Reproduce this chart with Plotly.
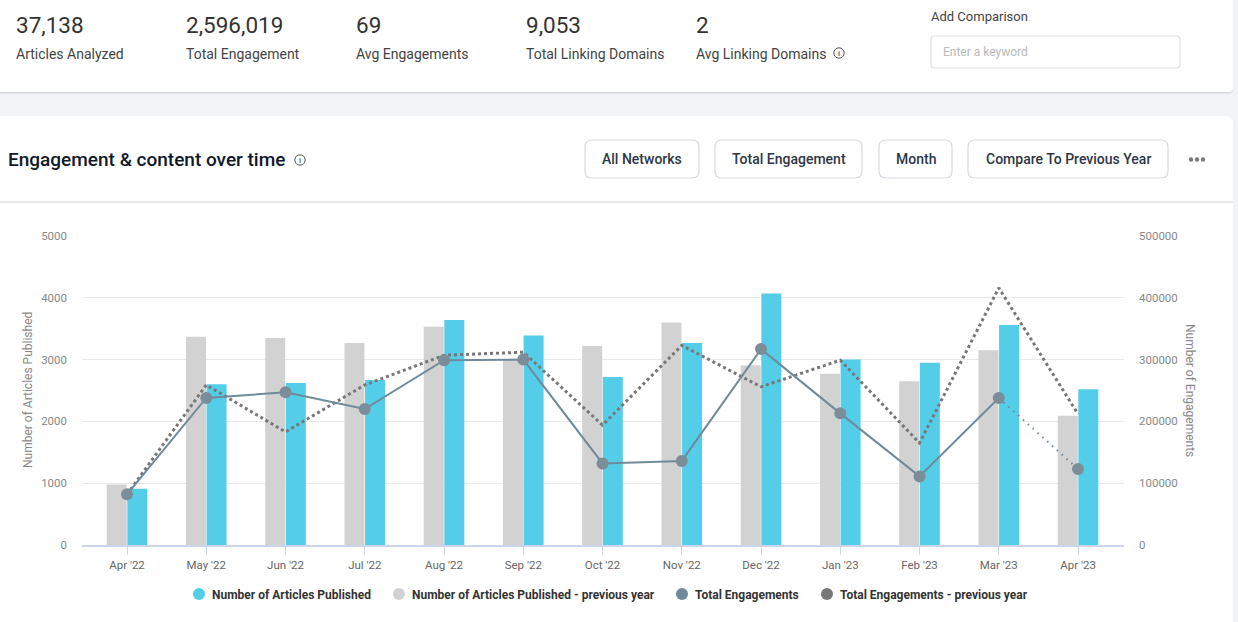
import plotly.graph_objects as go

categories = ["Apr '22","May '22","Jun '22","Jul '22","Aug '22","Sep '22","Oct '22","Nov '22","Dec '22","Jan '23","Feb '23","Mar '23","Apr '23"]
articles = [910,2600,2620,2670,3640,3390,2720,3270,4070,3000,2950,3560,2520]
articles_prev = [980,3370,3350,3270,3530,3000,3220,3600,2910,2770,2650,3150,2090]
engagements = [82000,238000,247000,220000,299000,300000,132000,136000,317000,213000,111000,238000,123000]
engagements_prev = [82000,259000,183000,259000,307000,312000,194000,323000,256000,299000,165000,416000,212000]
kpi_values = ["37,138","2,596,019","69","9,053","2"]
kpi_labels = ["Articles Analyzed","Total Engagement","Avg Engagements","Total Linking Domains","Avg Linking Domains"]
kpi_x = [16,186,356,526,696]
buttons = ["All Networks","Total Engagement","Month","Compare To Previous Year"]
button_spans = [(585,699),(715,862),(879,952),(968,1168)]
legend_names = ["Number of Articles Published","Number of Articles Published - previous year","Total Engagements","Total Engagements - previous year"]
legend_dots = [199,399,682,827]

W, H = 1238, 622
BLUE, GREY, SLATE, DARK = "#54cde8", "#d2d2d2", "#6f8b9b", "#777777"
FONT = "Roboto"
px = lambda x: x / W
py = lambda y: 1 - y / H

def rrect(x0, y0, x1, y1, r, fill, line=None, lw=1):
    d = (f"M{px(x0+r)},{py(y0)} L{px(x1-r)},{py(y0)} Q{px(x1)},{py(y0)} {px(x1)},{py(y0+r)} "
         f"L{px(x1)},{py(y1-r)} Q{px(x1)},{py(y1)} {px(x1-r)},{py(y1)} L{px(x0+r)},{py(y1)} "
         f"Q{px(x0)},{py(y1)} {px(x0)},{py(y1-r)} L{px(x0)},{py(y0+r)} Q{px(x0)},{py(y0)} {px(x0+r)},{py(y0)} Z")
    return dict(type="path", path=d, xref="paper", yref="paper", fillcolor=fill,
                line=dict(color=line or fill, width=lw if line else 0), layer="below")

def text(x, y, s, size, color, anchor="left", weight=400, angle=0):
    return dict(x=px(x), y=py(y), xref="paper", yref="paper", text=s, showarrow=False, xanchor=anchor,
                yanchor="middle", borderpad=0, textangle=angle,
                font=dict(family=FONT, size=size, color=color, weight=weight))

def circle(cx, cy, r, fill, line=None):
    return dict(type="circle", xref="paper", yref="paper", x0=px(cx-r), x1=px(cx+r), y0=py(cy+r), y1=py(cy-r),
                fillcolor=fill, line=dict(color=line or fill, width=1 if line else 0), layer="below")

shapes = [
    rrect(-6, -6, 1233, 93.5, 4, "#d8dadd"),
    rrect(-6, -6, 1233, 92, 4, "#ffffff"),
    rrect(-6, 116, 1233, 640, 8, "#ffffff"),
    dict(type="line", xref="paper", yref="paper", x0=0, x1=px(1233), y0=py(202), y1=py(202), line=dict(color="#e4e6ea", width=2), layer="below"),
    rrect(931, 36, 1180, 68, 3, "#ffffff", "#dcdfe3", 1.2),
]
annotations = []
for x, v, l in zip(kpi_x, kpi_values, kpi_labels):
    annotations.append(text(x - 1, 25.5, v, 22.5, "#333333"))
    annotations.append(text(x - 1, 54, l, 14, "#444444"))
annotations.append(text(930, 17, "Add Comparison", 13, "#444444"))
annotations.append(text(942, 52, "Enter a keyword", 12, "#b8b8b8"))
annotations.append(text(7, 159, "Engagement &amp; content over time", 19, "#10182a", weight=500))
for name, (x0, x1) in zip(buttons, button_spans):
    shapes.append(rrect(x0, 140, x1, 178, 7, "#ffffff", "#d5d9df", 1.2))
    annotations.append(text((x0 + x1) / 2, 159, name, 14, "#2d3748", "center", 500))
for cx in (1191, 1197, 1203):
    shapes.append(circle(cx, 159.5, 2.2, "#7a7a7a"))
for cx, cy in ((839, 53), (300, 160)):
    shapes.append(circle(cx, cy, 5.2, "rgba(0,0,0,0)", "#555555"))
    annotations.append(text(cx, cy, "i", 8, "#555555", "center", 500))
for cx, name, col in zip(legend_dots, legend_names, [BLUE, GREY, SLATE, DARK]):
    shapes.append(circle(cx, 594, 6, col))
    annotations.append(text(cx + 12, 594.5, name, 12, "#333333", weight=700))
annotations.append(text(28, 390, "Number of Articles Published", 12, "#888888", "center", angle=-90))
annotations.append(text(1190, 390, "Number of Engagements", 12, "#888888", "center", angle=90))

fig = go.Figure()
fig.add_bar(x=categories, y=articles_prev, marker=dict(color=GREY, line_width=0), showlegend=False, name=legend_names[1])
fig.add_bar(x=categories, y=articles, marker=dict(color=BLUE, line_width=0), showlegend=False, name=legend_names[0])
fig.add_scatter(x=categories, y=engagements_prev, yaxis="y2", mode="lines", showlegend=False, name=legend_names[3],
                line=dict(color=DARK, width=3, dash="dot"))
fig.add_scatter(x=categories[-2:], y=engagements[-2:], yaxis="y2", mode="lines", showlegend=False, name=legend_names[2],
                line=dict(color=SLATE, width=2, dash="1.5px,5px"))
fig.add_scatter(x=categories[:-1], y=engagements[:-1], yaxis="y2", mode="lines", showlegend=False, name=legend_names[2],
                line=dict(color=SLATE, width=2))
fig.add_scatter(x=categories, y=engagements, yaxis="y2", mode="markers", showlegend=False, name=legend_names[2],
                marker=dict(color="#7b8d99", size=12))

axis_font = dict(family=FONT, size=11.5, color="#888888")
fig.update_layout(
    width=W, height=H, autosize=False, margin=dict(l=0, r=0, t=0, b=0), showlegend=False,
    paper_bgcolor="#f2f3f5", plot_bgcolor="rgba(0,0,0,0)", font=dict(family=FONT),
    barmode="group", bargap=0.48, bargroupgap=0.03, shapes=shapes, annotations=annotations,
    xaxis=dict(domain=[px(82), px(1124)], range=[-0.568, 12.58], type="category", categoryorder="array", categoryarray=categories,
               automargin=False, showline=True, linecolor="#ccd6eb", linewidth=1.5, ticks="outside", tickcolor="#ccd6eb", ticklen=8,
               showgrid=False, tickfont=dict(family=FONT, size=11.5, color="#666666"), anchor="y"),
    yaxis=dict(domain=[py(545), py(236)], range=[0, 5000], dtick=1000, gridcolor="#e9e9e9", gridwidth=1, zeroline=False,
               automargin=False, showline=False, tickfont=axis_font, ticklabelstandoff=14, anchor="x"),
    yaxis2=dict(domain=[py(545), py(236)], range=[0, 500000], dtick=100000, overlaying="y", side="right", showgrid=False, zeroline=False,
                automargin=False, showline=False, tickfont=axis_font, tickformat="d", ticklabelstandoff=14, anchor="x"),
)
fig.write_html("out.html", config={"displayModeBar": False},
               post_script="document.body.style.margin='0';document.body.style.background='#f2f3f5';")
